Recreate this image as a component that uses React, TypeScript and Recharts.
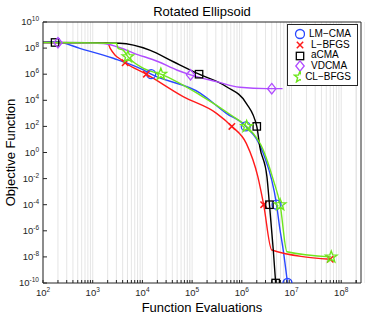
import React from 'react';
import { LineChart, Line, XAxis, YAxis, CartesianGrid, Legend } from 'recharts';

// function evaluations (x) and objective values (y)
const lmcmaX = [100, 190, 550, 2600, 10500, 15000, 145000, 490000, 1.2e6, 2.7e6, 5e6, 5.75e6, 6.8e6, 8.3e6];
const lmcmaY = [3e8, 3e8, 9.5e7, 1.66e7, 2.1e6, 1e6, 3.6e4, 1e3, 1e2, 0.87, 1e-4, 2e-6, 3.4e-8, 1e-10];
const lmcmaMarks = [5, 8, 10, 13];

const lbfgsX = [100, 2000, 2250, 2800, 3800, 4500, 12000, 66000, 310000, 630000, 1.23e6, 2.1e6, 2.75e6, 4e6, 6e7];
const lbfgsY = [2.7e8, 2.4e8, 9.5e7, 3e7, 1.23e7, 7.6e6, 1e6, 1.9e4, 1e3, 1e2, 5, 1.4e-2, 1e-4, 3.4e-8, 6.6e-9];
const lbfgsMarks = [5, 6, 9, 12, 14];

const acmaX = [100, 175, 3500, 14000, 42000, 138000, 490000, 1.23e6, 2e6, 2.3e6, 3.2e6, 3.6e6, 4.3e6, 4.8e6];
const acmaY = [2.7e8, 2.7e8, 2.35e8, 7e7, 9e6, 1e6, 1.1e5, 5.9e3, 1e2, 2.75, 1.4e-2, 1e-4, 3.2e-8, 1e-10];
const acmaMarks = [1, 5, 8, 11, 13];

const vdcmaX = [100, 200, 1620, 3100, 6800, 21000, 49000, 93000, 310000, 910000, 3.2e6, 4e6, 6.6e6];
const vdcmaY = [2.7e8, 2.6e8, 2.24e8, 1.26e8, 4e7, 9e6, 2.1e6, 9e5, 2.7e5, 1e5, 7.8e4, 7.8e4, 7.8e4];
const vdcmaMarks = [1, 7, 11];

const clbfgsX = [100, 3000, 3250, 4100, 5100, 10500, 23500, 145000, 680000, 1.25e6, 2.7e6, 4.3e6, 5.9e6, 8.1e6, 6.3e7];
const clbfgsY = [2.7e8, 2.35e8, 9.5e7, 7e7, 2.2e7, 2.8e6, 1e6, 2.5e4, 5.5e2, 1e2, 1.55, 8e-3, 1e-4, 2.5e-8, 1e-8];
const clbfgsMarks = [4, 6, 9, 12, 14];

const xDecades = [1e2, 1e3, 1e4, 1e5, 1e6, 1e7, 1e8];
const yDecades = [1e-10, 1e-8, 1e-6, 1e-4, 1e-2, 1, 1e2, 1e4, 1e6, 1e8, 1e10];
const xMinor = xDecades.flatMap((d) => [1, 2, 3, 4, 5, 6, 7, 8, 9].map((m) => m * d)).concat([2e8]);

const FONT = '"Liberation Sans", Arial, Helvetica, sans-serif';
const AXIS = '#262626';

const build = (xs: number[], ys: number[], marks: number[]) =>
  xs.map((x, i) => ({ x, y: ys[i], m: marks.includes(i) }));

const series = [
  { name: 'LM\u2212CMA', color: '#2a48ff', shape: 'circle', data: build(lmcmaX, lmcmaY, lmcmaMarks) },
  { name: 'L\u2212BFGS', color: '#ff1a1a', shape: 'cross', data: build(lbfgsX, lbfgsY, lbfgsMarks) },
  { name: 'aCMA', color: '#000000', shape: 'square', data: build(acmaX, acmaY, acmaMarks) },
  { name: 'VDCMA', color: '#b04cff', shape: 'diamond', data: build(vdcmaX, vdcmaY, vdcmaMarks) },
  { name: 'CL\u2212BFGS', color: '#6fe61e', shape: 'star', data: build(clbfgsX, clbfgsY, clbfgsMarks) },
];

function Marker({ shape, color, cx, cy }: { shape: string; color: string; cx: number; cy: number }) {
  const sw = 1.3;
  if (shape === 'circle') return <circle cx={cx} cy={cy} r={4.5} fill="none" stroke={color} strokeWidth={sw} />;
  if (shape === 'cross')
    return (
      <path d={`M${cx - 3.2},${cy - 3.2}L${cx + 3.2},${cy + 3.2}M${cx - 3.2},${cy + 3.2}L${cx + 3.2},${cy - 3.2}`} stroke={color} strokeWidth={1.5} fill="none" />
    );
  if (shape === 'square')
    return <rect x={cx - 3.7} y={cy - 3.7} width={7.4} height={7.4} fill="none" stroke={color} strokeWidth={sw} />;
  if (shape === 'diamond')
    return <path d={`M${cx},${cy - 5.2}L${cx + 4.2},${cy}L${cx},${cy + 5.2}L${cx - 4.2},${cy}Z`} fill="none" stroke={color} strokeWidth={sw} />;
  const pts: string[] = [];
  for (let k = 0; k < 10; k++) {
    const r = k % 2 === 0 ? 6 : 2.5;
    const a = -Math.PI / 2 + (k * Math.PI) / 5;
    pts.push(`${cx + r * Math.cos(a)},${cy + r * Math.sin(a)}`);
  }
  return <polygon points={pts.join(' ')} fill="none" stroke={color} strokeWidth={1.4} />;
}

const XTick = ({ x, y, payload }: any) => {
  const v = payload.value;
  const e = Math.round(Math.log10(v));
  if (Math.abs(v - Math.pow(10, e)) > 1e-6 * v) return <g />;
  return (
    <text x={x} y={y + 9} textAnchor="middle" fontFamily={FONT} fontSize={9.5} fill={AXIS}>
      10<tspan dy={-4} fontSize={6.5}>{e}</tspan>
    </text>
  );
};

const YTick = ({ x, y, payload }: any) => {
  const e = Math.round(Math.log10(payload.value));
  return (
    <text x={x} y={y + 3} textAnchor="end" fontFamily={FONT} fontSize={9.5} fill={AXIS}>
      10<tspan dy={-4} fontSize={6.5}>{e}</tspan>
    </text>
  );
};

const renderLegend = () => (
  <div style={{ border: `1px solid ${AXIS}`, background: '#fff', padding: '4px 6px 3px 5px', fontFamily: FONT, fontSize: 10, color: '#000', lineHeight: '10.7px' }}>
    {series.map((s) => (
      <div key={s.name} style={{ display: 'flex', alignItems: 'center', height: 10.7 }}>
        <svg width={14} height={12} style={{ marginRight: 4 }}>
          <Marker shape={s.shape} color={s.color} cx={7} cy={6} />
        </svg>
        <span>{s.name}</span>
      </div>
    ))}
  </div>
);

export default function App() {
  return (
    <div style={{ position: 'absolute', left: 0, top: 0 }}>
      <LineChart width={365} height={314} margin={{ top: 21, right: 3, bottom: 0, left: 0 }}>
        <CartesianGrid horizontal={false} verticalValues={xMinor} stroke="#dedede" strokeWidth={0.8} xAxisId={0} yAxisId={0} />
        <XAxis
          dataKey="x"
          type="number"
          scale="log"
          domain={[100, 2.5e8]}
          allowDataOverflow
          ticks={xMinor.filter((v) => v <= 2e8)}
          interval={0}
          height={31}
          tickSize={-3}
          tickMargin={7}
          stroke={AXIS}
          tick={<XTick />}
          label={{ value: 'Function Evaluations', position: 'insideBottom', offset: 2, style: { fontFamily: FONT, fontSize: 13, fill: '#000' } }}
        />
        <XAxis
          xAxisId="top"
          orientation="top"
          type="number"
          scale="log"
          domain={[100, 2.5e8]}
          allowDataOverflow
          ticks={xMinor.filter((v) => v <= 2e8)}
          interval={0}
          height={1}
          tickSize={-3}
          tick={false}
          stroke={AXIS}
          label={{ value: 'Rotated Ellipsoid', position: 'top', offset: 5, style: { fontFamily: FONT, fontSize: 13, fill: '#000' } }}
        />
        <YAxis
          dataKey="y"
          type="number"
          scale="log"
          domain={[1e-10, 1e10]}
          allowDataOverflow
          ticks={yDecades}
          interval={0}
          width={43}
          tickSize={-4}
          tickMargin={8}
          stroke={AXIS}
          tick={<YTick />}
          label={{ value: 'Objective Function', angle: -90, position: 'insideLeft', offset: 10, style: { textAnchor: 'middle', fontFamily: FONT, fontSize: 13, fill: '#000' } }}
        />
        <YAxis
          yAxisId="right"
          orientation="right"
          type="number"
          scale="log"
          domain={[1e-10, 1e10]}
          allowDataOverflow
          ticks={yDecades}
          interval={0}
          width={1}
          tickSize={-4}
          tick={false}
          stroke={AXIS}
        />
        {series.map((s) => (
          <Line
            key={s.name}
            data={s.data}
            dataKey="y"
            type="monotoneX"
            stroke={s.color}
            strokeWidth={1.4}
            isAnimationActive={false}
            activeDot={false}
            dot={(p: any) =>
              p.payload.m ? (
                <Marker key={`${s.name}-${p.index}`} shape={s.shape} color={s.color} cx={p.cx} cy={p.cy} />
              ) : (
                <g key={`${s.name}-${p.index}`} />
              )
            }
          />
        ))}
        <Legend content={renderLegend} layout="vertical" align="center" verticalAlign="middle" wrapperStyle={{ top: 24, left: 287, width: 71 }} />
      </LineChart>
    </div>
  );
}
